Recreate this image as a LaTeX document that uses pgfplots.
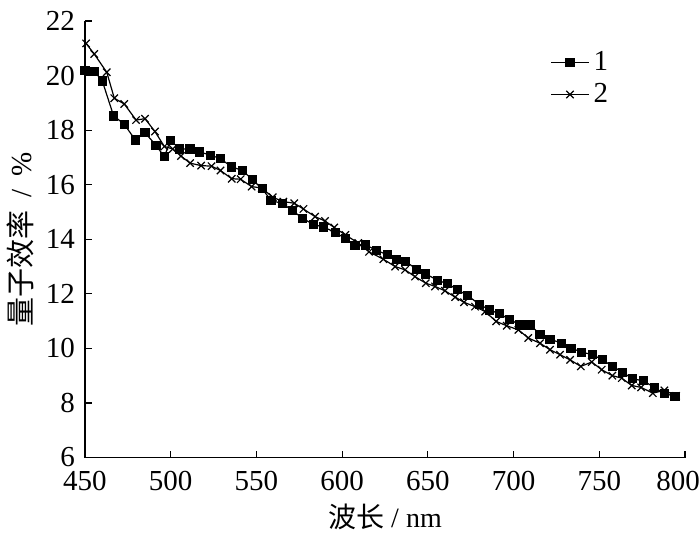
\documentclass[border=0pt]{standalone}
\usepackage{pgfplots}
\pgfplotsset{compat=1.18}
\usepackage{fontspec}
\setmainfont{Liberation Serif}
\newfontfamily\cjk{Noto Sans CJK SC}
\begin{document}
\begin{tikzpicture}
\useasboundingbox (-42.5pt,-37.5pt) rectangle (307.5pt,228.75pt);
\begin{axis}[
  at={(0,0)}, anchor=south west,
  scale only axis, width=300pt, height=218.25pt,
  xmin=450, xmax=800, ymin=6, ymax=22,
  axis x line=bottom, axis y line=left,
  axis line style={-, line width=0.75pt, black},
  xtick={450,500,...,750}, ytick={6,8,...,22},
  extra x ticks={800},
  extra x tick style={xticklabel style={xshift=-3.5pt}},
  tick align=inside, major tick length=3.5pt,
  tick style={line width=0.6pt, black},
  ticklabel style={font=\fontsize{14.5}{16}\selectfont},
  yticklabel style={xshift=-1.5pt},
  xticklabel style={yshift=-3.5pt},
  /pgf/number format/assume math mode=true,
  xlabel={{\cjk 波长} / nm},
  ylabel={{\cjk 量子效率}\hspace{0.45em}/\hspace{0.45em}\%},
  label style={font=\fontsize{14}{16}\selectfont},
  xlabel style={at={(axis description cs:0.5,-0.136)}, anchor=center},
  ylabel style={at={(axis description cs:-0.108,0.5)}, anchor=center, font=\fontsize{14.5}{16}\selectfont},
  legend cell align=left,
  legend style={at={(0.765,0.95)}, anchor=north west, draw=none, fill=none,
    font=\fontsize{14.5}{16}\selectfont, row sep=1pt},
  legend image code/.code={\draw[mark repeat=2,mark phase=2] plot coordinates {(0cm,0cm)(0.335cm,0cm)(0.67cm,0cm)};},
]
\addplot[black, line width=0.6pt, mark=square*, mark size=2pt, mark options={solid}] coordinates {
(450.0,20.18)(455.4,20.16)(460.1,19.80)(466.7,18.52)(472.9,18.22)(479.3,17.64)
(485.0,17.90)(491.4,17.45)(496.3,17.02)(499.8,17.63)(505.2,17.31)(511.3,17.31)
(516.9,17.20)(523.3,17.08)(528.9,16.96)(535.6,16.65)(542.0,16.52)(547.6,16.18)
(553.4,15.85)(558.5,15.42)(565.3,15.31)(571.2,15.04)(577.0,14.77)(583.2,14.54)
(589.0,14.45)(596.1,14.25)(602.0,14.02)(607.5,13.76)(613.8,13.79)(620.2,13.59)
(626.4,13.43)(631.8,13.27)(637.1,13.18)(643.5,12.90)(648.8,12.73)(655.8,12.49)
(661.6,12.37)(667.2,12.15)(672.9,11.95)(679.9,11.62)(685.9,11.41)(691.7,11.27)
(697.5,11.07)(703.8,10.86)(709.6,10.86)(715.4,10.52)(721.3,10.34)(727.9,10.19)
(733.5,10.01)(739.8,9.86)(746.2,9.77)(751.8,9.58)(757.9,9.34)(763.7,9.12)
(769.3,8.89)(775.7,8.81)(782.1,8.57)(788.0,8.34)(794.2,8.25)
};
\addlegendentry{1}
\addplot[black, line width=0.6pt, mark=x, mark size=2.6pt, mark options={solid, line width=0.6pt}] coordinates {
(450.6,21.18)(455.4,20.79)(462.7,20.12)(467.1,19.17)(472.9,18.96)(479.8,18.37)
(485.0,18.42)(490.8,17.95)(496.3,17.40)(501.2,17.31)(506.0,17.05)(511.3,16.79)
(517.7,16.70)(523.8,16.68)(529.0,16.52)(535.6,16.22)(540.8,16.20)(547.2,15.93)
(553.1,15.88)(559.5,15.54)(565.7,15.38)(572.1,15.32)(577.4,15.11)(584.2,14.83)
(590.0,14.67)(595.4,14.43)(601.9,14.16)(609.4,13.86)(615.7,13.54)(624.0,13.27)
(630.9,13.00)(636.7,12.88)(642.5,12.63)(648.8,12.39)(654.2,12.27)(660.0,12.11)
(665.9,11.88)(671.1,11.69)(677.5,11.53)(683.4,11.35)(689.8,10.99)(696.0,10.83)
(702.8,10.68)(708.6,10.38)(715.4,10.19)(721.3,9.95)(727.1,9.77)(733.0,9.58)
(739.2,9.34)(745.6,9.50)(751.4,9.22)(757.6,9.00)(763.1,8.91)(768.9,8.64)
(774.4,8.57)(781.2,8.36)(788.0,8.46)(794.8,8.26)
};
\addlegendentry{2}
\end{axis}
\end{tikzpicture}
\end{document}
